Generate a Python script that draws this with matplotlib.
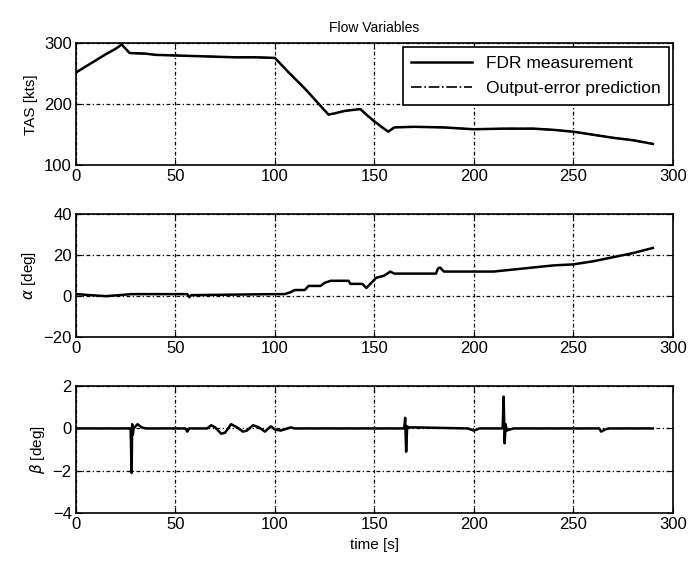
import matplotlib.pyplot as plt

plt.rcParams['font.family'] = ['Liberation Sans', 'DejaVu Sans']

# TAS [kts]
t_tas = [0, 5, 10, 15, 20, 23, 25, 27, 35, 40, 50, 60, 70, 80, 90, 100,
         107, 115, 120, 125, 127, 130, 135, 140, 143, 146, 150, 154, 157, 160,
         170, 185, 200, 215, 230, 240, 250, 260, 270, 280, 290]
tas = [252, 262, 272, 282, 291, 298, 291, 284, 283, 281, 280, 279, 278, 277, 277, 276,
       252, 226, 208, 190, 183, 185, 189, 191, 192, 183, 172, 162, 155, 162,
       163, 162, 159, 160, 160, 158, 155, 150, 145, 141, 135]

# alpha [deg]
t_alpha = [0, 15, 28, 56, 57, 58, 100, 105, 108, 110, 115, 117, 123, 125, 128, 137, 138,
           144, 146, 148, 151, 155, 158, 160, 170, 181, 182, 183, 185, 200, 210, 220,
           230, 240, 250, 260, 270, 280, 290]
alpha = [1, 0, 1, 1, -0.5, 0.5, 1, 1, 2, 3, 3, 5, 5, 6.5, 7.5, 7.5, 6,
         6, 4, 6, 9, 10, 12, 11, 11, 11, 13.5, 14, 12, 12, 12, 13,
         14, 15, 15.5, 17, 19, 21, 23.5]

# beta [deg]
t_beta = [0, 27.5, 28, 28.3, 28.6, 29, 31, 33, 35, 55, 56, 57, 66, 68, 70, 73, 75, 78, 81,
          84, 86, 89, 92, 95, 98, 100, 103, 108, 110, 165, 165.5, 166, 166.5, 167, 170,
          197, 200, 203, 214.5, 215, 215.5, 216, 216.5, 220, 263, 264, 266, 268, 290]
beta = [0, 0, -2.1, 0.2, -0.3, 0, 0.2, 0.05, 0, 0, -0.15, 0, 0, 0.15, 0.05, -0.25, -0.2, 0.2, 0.05,
        -0.15, -0.1, 0.15, 0.05, -0.15, 0.1, -0.05, -0.1, 0.05, 0, 0, 0.5, -1.1, 0.1, 0.05, 0.05,
        0, -0.1, 0, 0, 1.5, -0.7, 0.2, -0.1, 0, 0, -0.15, -0.05, 0, 0]

fig = plt.figure(figsize=(6.9, 5.62), dpi=100)
ax1 = fig.add_axes([0.110, 0.706, 0.865, 0.217])
ax2 = fig.add_axes([0.110, 0.400, 0.865, 0.219])
ax3 = fig.add_axes([0.110, 0.087, 0.865, 0.226])

grid_style = dict(color='black', linestyle=(0, (3, 2, 1, 2)), linewidth=0.9)

def style(ax, ylim, yticks, ylabel):
    ax.set_xlim(0, 300)
    ax.set_ylim(*ylim)
    ax.set_xticks(range(0, 301, 50))
    ax.set_yticks(yticks)
    ax.grid(True, **grid_style)
    ax.tick_params(direction='in', labelsize=12, length=4, top=True, right=True, pad=3)
    ax.set_ylabel(ylabel, fontsize=11)
    for s in ax.spines.values():
        s.set_linewidth(1.2)

ax1.plot(t_tas, tas, color='black', linewidth=1.8, label='FDR measurement')
ax1.plot(t_tas, tas, color='black', linewidth=1.2, linestyle='-.', label='Output-error prediction')
style(ax1, (100, 300), [100, 200, 300], 'TAS [kts]')
ax1.set_title('Flow Variables', fontsize=10, pad=8)
leg = ax1.legend(loc='upper right', fontsize=12.5, frameon=True, fancybox=False,
                 edgecolor='black', framealpha=1, borderaxespad=0.2, handlelength=3.5,
                 borderpad=0.5, labelspacing=0.6)
leg.get_frame().set_linewidth(1.2)

ax2.plot(t_alpha, alpha, color='black', linewidth=1.8)
style(ax2, (-20, 40), [-20, 0, 20, 40], r'$\alpha$ [deg]')

ax3.plot(t_beta, beta, color='black', linewidth=1.8)
style(ax3, (-4, 2), [-4, -2, 0, 2], r'$\beta$ [deg]')
ax3.set_xlabel('time [s]', fontsize=11)

fig.savefig('out.png', dpi=100)
plt.close(fig)
